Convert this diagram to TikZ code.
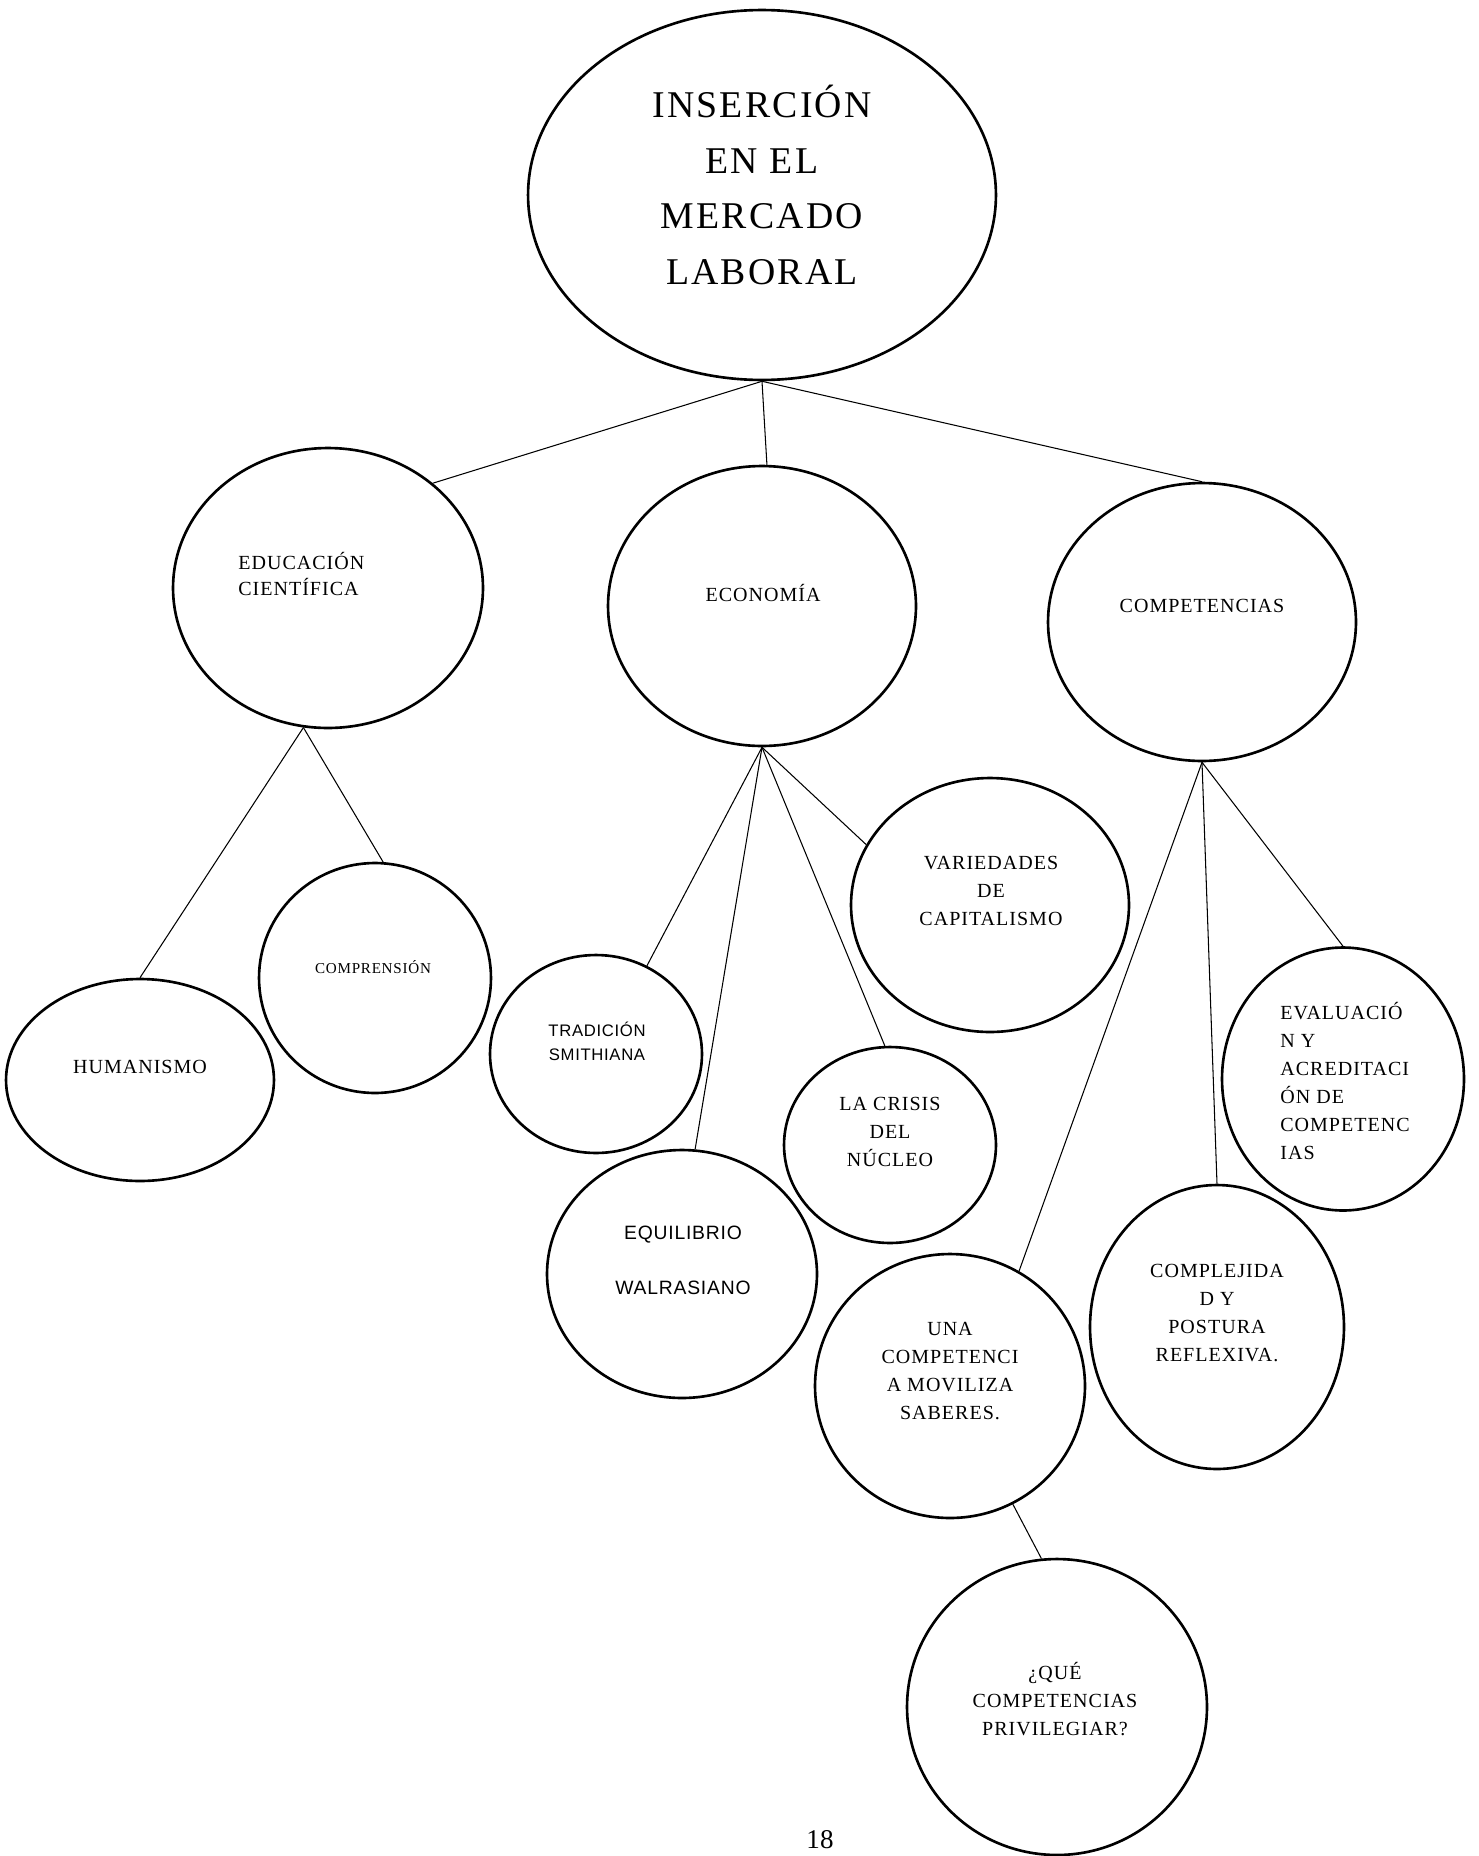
\documentclass[tikz,border=0pt]{standalone}
\usepackage{fontspec}
\setmainfont{Liberation Serif}
\setsansfont{Liberation Sans}
\newfontfamily\titulofont[LetterSpace=6]{Liberation Serif}
\newfontfamily\serifesp[LetterSpace=5]{Liberation Serif}
\newfontfamily\sansesp[LetterSpace=4]{Liberation Sans}
\usetikzlibrary{
  shapes.geometric,
  positioning
}

\begin{document}
\begin{tikzpicture}[x=0.02cm,y=-0.02cm,
    burbuja/.style={ellipse,draw,line width=1.5pt,inner sep=0pt},
    enlace/.style={line width=0.6pt},
    rotulo/.style={align=center,inner sep=0pt,
      font=\serifesp\fontsize{11.4}{15.9}\selectfont},
    rotulosans/.style={align=center,inner sep=0pt,
      font=\sansesp\fontsize{9.5}{13.7}\selectfont}]
  \useasboundingbox (0,0) rectangle (1479,1856);

  % circulos
  \node[burbuja,minimum width=9.36cm,minimum height=7.40cm] (insercion) at (762,195) {};
  \node[burbuja,minimum width=6.20cm,minimum height=5.60cm] (educ) at (328,588) {};
  \node[burbuja,minimum width=6.16cm,minimum height=5.60cm] (econ) at (762,606) {};
  \node[burbuja,minimum width=6.16cm,minimum height=5.56cm] (comp) at (1202,622) {};
  \node[burbuja,minimum width=5.36cm,minimum height=4.04cm] (human) at (140,1080) {};
  \node[burbuja,minimum width=4.64cm,minimum height=4.60cm] (compr) at (375,978) {};
  \node[burbuja,minimum width=4.24cm,minimum height=3.96cm] (trad) at (596,1054) {};
  \node[burbuja,minimum width=5.56cm,minimum height=5.08cm] (var) at (990,905) {};
  \node[burbuja,minimum width=4.24cm,minimum height=3.92cm] (crisis) at (890,1145) {};
  \node[burbuja,minimum width=5.40cm,minimum height=4.96cm] (equi) at (682,1274) {};
  \node[burbuja,minimum width=5.40cm,minimum height=5.28cm] (una) at (950,1386) {};
  \node[burbuja,minimum width=5.08cm,minimum height=5.68cm] (compl) at (1217,1327) {};
  \node[burbuja,minimum width=4.84cm,minimum height=5.26cm] (eval) at (1343,1079) {};
  \node[burbuja,minimum width=6.00cm,minimum height=5.92cm] (que) at (1057,1707) {};

  % textos
  \node[rotulo,font=\titulofont\fontsize{21.5}{31.8}\selectfont] (insercionT) at (762,185)
    {INSERCIÓN\\EN EL\\MERCADO\\LABORAL};
  \node[rotulo,align=left,anchor=west,font=\serifesp\fontsize{11.4}{14.8}\selectfont] (educT) at (238,574)
    {EDUCACIÓN\\CIENTÍFICA};
  \node[rotulo] (econT) at (763,593) {ECONOMÍA};
  \node[rotulo] (compT) at (1202,606) {COMPETENCIAS};
  \node[rotulo] (humanT) at (140,1067) {HUMANISMO};
  \node[rotulo,font=\serifesp\fontsize{8.6}{11}\selectfont] (comprT) at (373,967) {COMPRENSIÓN};
  \node[rotulosans] (tradT) at (597,1041) {TRADICIÓN\\SMITHIANA};
  \node[rotulo] (varT) at (991,891) {VARIEDADES\\DE\\CAPITALISMO};
  \node[rotulo] (crisisT) at (890,1132) {LA CRISIS\\DEL\\NÚCLEO};
  \node[rotulosans,font=\sansesp\fontsize{11}{15.6}\selectfont] (equiT) at (683,1260)
    {EQUILIBRIO\\[15.6pt]WALRASIANO};
  \node[rotulo] (unaT) at (950,1371) {UNA\\COMPETENCI\\A MOVILIZA\\SABERES.};
  \node[rotulo] (complT) at (1217,1313) {COMPLEJIDA\\D Y\\POSTURA\\REFLEXIVA.};
  \node[rotulo,align=left,anchor=west] (evalT) at (1280,1081)
    {EVALUACIÓ\\N Y\\ACREDITACI\\ÓN DE\\COMPETENC\\IAS};
  \node[rotulo] (queT) at (1055,1699) {¿QUÉ\\COMPETENCIAS\\PRIVILEGIAR?};
  \node[anchor=base,inner sep=0pt,font=\fontsize{15.4}{18}\selectfont] (pagina) at (820,1848) {18};

  % lineas
  \foreach \a/\b in {insercion.south/educ.45, insercion.south/econ.88,
      insercion.south/comp.north, educ.260/human.north, educ.260/compr.86,
      econ.south/trad.60, econ.south/equi.84, econ.south/crisis.93,
      econ.south/var.154, comp.south/una.59, comp.south/compl.north,
      comp.south/eval.north, una.298/que.96}
    \draw[enlace] (\a) -- (\b);
\end{tikzpicture}
\end{document}
